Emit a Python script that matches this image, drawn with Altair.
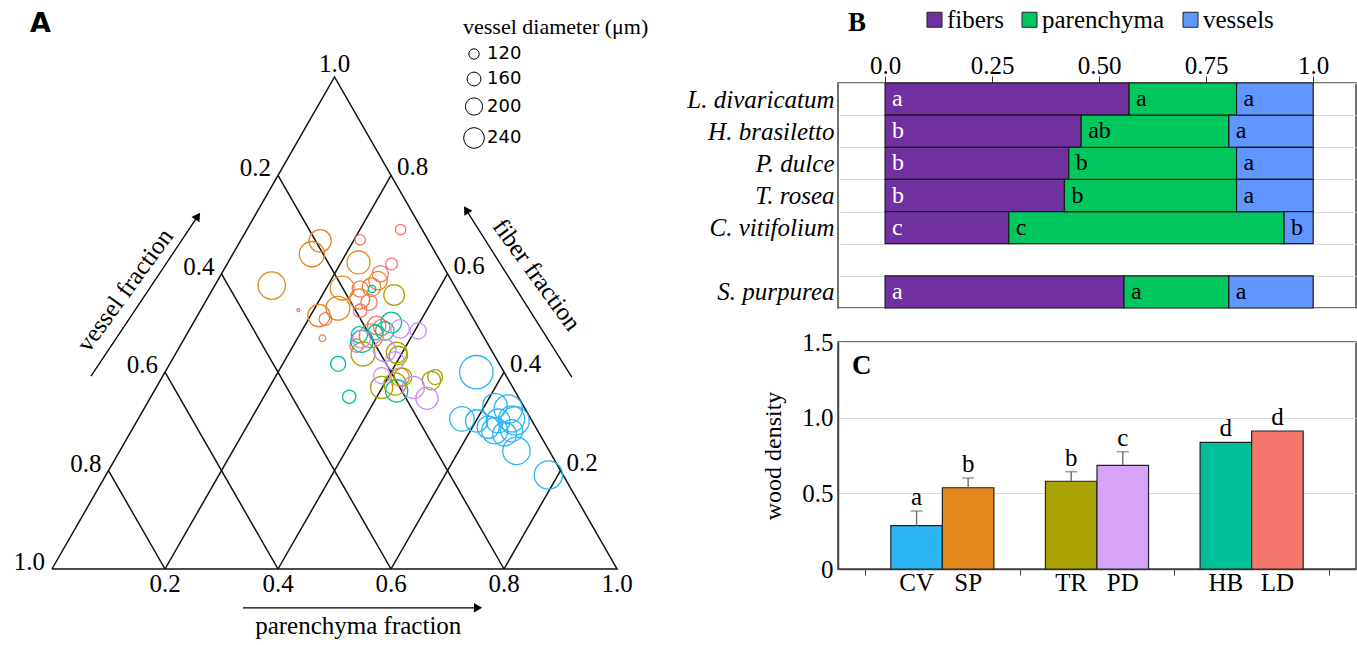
import altair as alt
import pandas as pd

SERIF = "Liberation Serif"
SANS = "DejaVu Sans"

# ---------------- Panel A : ternary data (fiber, parenchyma fractions, vessel diameter) ----------------
sp_fiber = [0.667, 0.640, 0.623, 0.576, 0.586, 0.573, 0.571, 0.549, 0.530, 0.515, 0.474, 0.390]
sp_parench = [0.141, 0.140, 0.231, 0.101, 0.284, 0.279, 0.228, 0.270, 0.241, 0.215, 0.328, 0.421]
sp_diam = [258, 292, 266, 317, 214, 214, 276, 232, 276, 258, 276, 214]
ld_fiber = [0.690, 0.669, 0.620, 0.600, 0.569, 0.542, 0.525, 0.526, 0.508, 0.469, 0.495, 0.491, 0.454]
ld_parench = [0.272, 0.211, 0.291, 0.281, 0.261, 0.290, 0.283, 0.173, 0.230, 0.244, 0.327, 0.338, 0.312]
ld_diam = [121, 121, 137, 188, 188, 188, 155, 34, 147, 77, 214, 188, 155]
hb_fiber = [0.569, 0.417, 0.350, 0.476, 0.484, 0.501, 0.362, 0.463, 0.481]
hb_parench = [0.282, 0.298, 0.351, 0.306, 0.347, 0.350, 0.429, 0.317, 0.332]
hb_diam = [85, 173, 155, 188, 214, 240, 258, 258, 173]
tr_fiber = [0.557, 0.437, 0.440, 0.434, 0.369, 0.376, 0.383, 0.390, 0.390]
tr_parench = [0.327, 0.332, 0.390, 0.396, 0.399, 0.419, 0.480, 0.483, 0.426]
tr_diam = [240, 276, 240, 214, 258, 258, 214, 173, 206]
pdu_fiber = [0.488, 0.484, 0.444, 0.423, 0.393, 0.369, 0.347, 0.467]
pdu_parench = [0.372, 0.406, 0.367, 0.395, 0.387, 0.455, 0.490, 0.314]
pdu_diam = [214, 188, 258, 214, 188, 258, 258, 206]
cv_fiber = [0.400, 0.305, 0.301, 0.332, 0.325, 0.301, 0.305, 0.281, 0.274, 0.281, 0.240, 0.191, 0.288, 0.301]
cv_parench = [0.551, 0.573, 0.601, 0.618, 0.645, 0.639, 0.661, 0.643, 0.664, 0.673, 0.702, 0.783, 0.628, 0.669]
cv_diam = [387, 284, 258, 284, 328, 276, 302, 302, 276, 258, 317, 328, 258, 328]

species_codes = ["CV", "SP", "TR", "PD", "HB", "LD"]
species_colors = ["#2BB5F5", "#E3871C", "#A8A300", "#D6A5FA", "#00BF99", "#F7766D"]
circle_colors = ["#2BB5F5", "#E3871C", "#A8A300", "#C98BF7", "#00BF99", "#F7766D"]

size_legend_values = [120, 160, 200, 240]
grid_fracs = [0.2, 0.4, 0.6, 0.8]
left_labels = [0.2, 0.4, 0.6, 0.8, 1.0]      # vessel fraction on left edge
right_labels = [0.2, 0.4, 0.6, 0.8, 1.0]     # fiber fraction on right edge
bottom_labels = [0.2, 0.4, 0.6, 0.8, 1.0]    # parenchyma fraction on bottom edge

# arrows (tail x, tail y, tip x, tip y) in triangle coordinates
arrow_names = ["vessel", "fiber", "parenchyma"]
arrow_x0 = [0.069, 0.920, 0.338]
arrow_y0 = [0.392, 0.390, -0.079]
arrow_x1 = [0.258, 0.733, 0.754]
arrow_y1 = [0.717, 0.730, -0.079]
arrow_angle = [34, 328, 90]

# ---------------- Panel B data ----------------
b_species = ["L. divaricatum", "H. brasiletto", "P. dulce", "T. rosea", "C. vitifolium", "S. purpurea"]
b_fibers = [0.570, 0.458, 0.429, 0.419, 0.289, 0.558]
b_parench = [0.251, 0.345, 0.392, 0.402, 0.643, 0.245]
b_vessels = [0.179, 0.197, 0.179, 0.179, 0.068, 0.197]
b_let_f = ["a", "b", "b", "b", "c", "a"]
b_let_p = ["a", "ab", "b", "b", "c", "a"]
b_let_v = ["a", "a", "a", "a", "b", "a"]
tissues = ["fibers", "parenchyma", "vessels"]
tissue_colors = ["#7030A0", "#00C85F", "#5F97FF"]

# ---------------- Panel C data ----------------
c_species = ["CV", "SP", "TR", "PD", "HB", "LD"]
c_group = ["g1", "g1", "g2", "g2", "g3", "g3"]
c_pos = ["1", "2", "1", "2", "1", "2"]
c_density = [0.286, 0.537, 0.580, 0.685, 0.837, 0.912]
c_err = [0.097, 0.064, 0.063, 0.090, 0.0, 0.0]
c_letter = ["a", "b", "b", "c", "d", "d"]

# ======================= Panel A =======================
rows = []
for code, fr, pr, dm in [("SP", sp_fiber, sp_parench, sp_diam), ("LD", ld_fiber, ld_parench, ld_diam),
                         ("HB", hb_fiber, hb_parench, hb_diam), ("TR", tr_fiber, tr_parench, tr_diam),
                         ("PD", pdu_fiber, pdu_parench, pdu_diam), ("CV", cv_fiber, cv_parench, cv_diam)]:
    for f, p, d in zip(fr, pr, dm):
        rows.append({"sp": code, "fiber": f, "parench": p, "diam": d})
circ = pd.DataFrame(rows)
circ["vessel"] = 1 - circ["fiber"] - circ["parench"]
circ["x"] = circ["parench"] + circ["fiber"] / 2
circ["y"] = circ["fiber"]

lines = []
for v in grid_fracs:
    f = 1 - v
    lines += [{"id": f"v{v}", "o": 0, "x": f / 2, "y": f}, {"id": f"v{v}", "o": 1, "x": 1 - v, "y": 0}]
for p in grid_fracs:
    lines += [{"id": f"p{p}", "o": 0, "x": p, "y": 0}, {"id": f"p{p}", "o": 1, "x": p + (1 - p) / 2, "y": 1 - p}]
for i, (x, y) in enumerate([(0, 0), (1, 0), (0.5, 1), (0, 0)]):
    lines.append({"id": "edge", "o": i, "x": x, "y": y})
lines = pd.DataFrame(lines)

lab_left = pd.DataFrame({"v": left_labels})
lab_left["x"] = (1 - lab_left["v"]) / 2
lab_left["y"] = 1 - lab_left["v"]
lab_left["t"] = lab_left["v"].map(lambda z: f"{z:.1f}")
lab_right = pd.DataFrame({"f": right_labels[:-1]})
lab_right["x"] = 1 - lab_right["f"] / 2
lab_right["y"] = lab_right["f"]
lab_right["t"] = lab_right["f"].map(lambda z: f"{z:.1f}")
lab_apex = pd.DataFrame({"x": [0.5], "y": [right_labels[-1]], "t": [f"{right_labels[-1]:.1f}"]})
lab_bottom = pd.DataFrame({"x": bottom_labels, "y": [0.0] * len(bottom_labels)})
lab_bottom["t"] = lab_bottom["x"].map(lambda z: f"{z:.1f}")

arr_lines = pd.DataFrame(
    [{"id": n, "o": 0, "x": a, "y": b} for n, a, b in zip(arrow_names, arrow_x0, arrow_y0)]
    + [{"id": n, "o": 1, "x": a, "y": b} for n, a, b in zip(arrow_names, arrow_x1, arrow_y1)])
arr_heads = pd.DataFrame({"x": arrow_x1, "y": arrow_y1, "ang": arrow_angle})

titles = pd.DataFrame({
    "t": ["vessel fraction", "fiber fraction", "parenchyma fraction"],
    "x": [0.129, 0.858, 0.542],
    "y": [0.567, 0.598, -0.132],
    "ang": [306, 54, 0],
})

# plot area of A starts at the same height as panel B's frame (y = 84 px)
A_W, A_H = 660, 561
XS = alt.Scale(domain=[-0.092, 1.076], nice=False, zero=False)
YS = alt.Scale(domain=[-0.15244, 0.98780], nice=False, zero=False)


def ax(f="x"):
    return alt.X(f"{f}:Q", scale=XS, axis=None)


def ay(f="y"):
    return alt.Y(f"{f}:Q", scale=YS, axis=None)


grid_layer = alt.Chart(lines).mark_line(color="#111", strokeWidth=1.5).encode(
    x=ax(), y=ay(), detail="id:N", order="o:Q")

circ_layer = alt.Chart(circ).mark_point(shape="circle", filled=False, strokeWidth=1.3, opacity=1).encode(
    x=ax(), y=ay(),
    color=alt.Color("sp:N", scale=alt.Scale(domain=species_codes, range=circle_colors), legend=None),
    size=alt.Size("diam:Q", scale=alt.Scale(type="pow", exponent=2, domain=[0, 240], range=[0, 430]),
                  legend=alt.Legend(title="vessel diameter (μm)", orient="none", legendX=463, legendY=-66,
                                    values=size_legend_values, titleFont=SERIF, titleFontSize=22,
                                    titleFontWeight="normal", titleColor="black", titleLimit=400,
                                    labelFont=SANS, labelFontSize=18, labelColor="black",
                                    symbolStrokeColor="black", symbolStrokeWidth=1, symbolType="circle",
                                    rowPadding=7, labelOffset=2, titlePadding=6, padding=0)),
)

lab_kw = dict(font=SERIF, fontSize=25, color="black")
left_layer = alt.Chart(lab_left).mark_text(align="right", baseline="alphabetic", dx=-7, dy=1, **lab_kw).encode(
    x=ax(), y=ay(), text="t:N")
right_layer = alt.Chart(lab_right).mark_text(align="left", baseline="alphabetic", dx=6, dy=0, **lab_kw).encode(
    x=ax(), y=ay(), text="t:N")
apex_layer = alt.Chart(lab_apex).mark_text(align="center", baseline="alphabetic", dy=-5, **lab_kw).encode(
    x=ax(), y=ay(), text="t:N")
bottom_layer = alt.Chart(lab_bottom).mark_text(align="center", baseline="alphabetic", dy=23, **lab_kw).encode(
    x=ax(), y=ay(), text="t:N")

arrow_layer = alt.Chart(arr_lines).mark_line(color="black", strokeWidth=1.3).encode(
    x=ax(), y=ay(), detail="id:N", order="o:Q")
head_layer = alt.Chart(arr_heads).mark_point(shape="triangle-up", filled=True, color="black", size=90,
                                              opacity=1).encode(
    x=ax(), y=ay(), angle=alt.Angle("ang:Q", scale=None))

title_layers = []
for i in range(len(titles)):
    sub = titles.iloc[[i]]
    bl = "alphabetic" if sub["ang"].iloc[0] == 0 else "middle"
    title_layers.append(alt.Chart(sub).mark_text(align="center", baseline=bl, angle=int(sub["ang"].iloc[0]),
                                                 font=SERIF, fontSize=25, color="black").encode(
        x=ax(), y=ay(), text="t:N"))

a_letter = alt.Chart(pd.DataFrame({"t": ["A"]})).mark_text(
    font=SANS, fontSize=27, fontWeight="bold", align="left", baseline="alphabetic", color="black").encode(
    x=alt.value(30), y=alt.value(-51), text="t:N")

chartA = alt.layer(grid_layer, circ_layer, left_layer, right_layer, apex_layer, bottom_layer,
                   arrow_layer, head_layer, *title_layers, a_letter).properties(
    width=A_W, height=A_H, view=alt.ViewBackground(stroke=None))

# ======================= Panel B =======================
brow = []
for i, s in enumerate(b_species):
    start = 0.0
    for t, val, let in zip(tissues, [b_fibers[i], b_parench[i], b_vessels[i]],
                           [b_let_f[i], b_let_p[i], b_let_v[i]]):
        brow.append({"species": s, "tissue": t, "start": start, "end": start + val, "letter": let})
        start += val
dfB = pd.DataFrame(brow)
b_domain = b_species[:5] + [" "] + b_species[5:]

BY = alt.Y("species:N", scale=alt.Scale(domain=b_domain, paddingInner=0, paddingOuter=0),
           axis=alt.Axis(title=None, labelFont=SERIF, labelFontStyle="italic", labelFontSize=25,
                         labelColor="black", ticks=False, domain=False, grid=True, gridColor="#dcdcdc",
                         gridWidth=1.2, tickBand="extent", labelPadding=4))
BX = alt.X("start:Q", scale=alt.Scale(domain=[-0.11, 1.1], nice=False, zero=False),
           axis=alt.Axis(orient="top", values=[0, 0.25, 0.5, 0.75, 1.0], title=None, grid=False, domain=False,
                         tickSize=7, tickColor="#333", labelFont=SERIF, labelFontSize=25, labelColor="black",
                         labelPadding=3, labelBaseline="alphabetic",
                         labelExpr="datum.value == 0 ? '0.0' : datum.value == 1 ? '1.0' : format(datum.value, '.2f')"))

b_bars = alt.Chart(dfB).mark_bar(stroke="#1a1a1a", strokeWidth=1.2).encode(
    y=BY, x=BX, x2="end:Q",
    color=alt.Color("tissue:N", scale=alt.Scale(domain=tissues, range=tissue_colors),
                    legend=alt.Legend(title=None, orient="none", legendX=84, legendY=-76, direction="horizontal",
                                      symbolType="square", symbolSize=225, symbolStrokeColor="#222",
                                      symbolStrokeWidth=1, labelFont=SERIF, labelFontSize=25, labelColor="black",
                                      columnPadding=13, labelOffset=0, padding=0)),
    order=alt.Order("start:Q"),
)
b_text = alt.Chart(dfB).mark_text(font=SERIF, fontSize=24, align="left", baseline="middle", dx=7).encode(
    y=BY, x=BX, text="letter:N",
    color=alt.condition(alt.datum.tissue == "fibers", alt.value("white"), alt.value("black")))
b_letter = alt.Chart(pd.DataFrame({"t": ["B"]})).mark_text(
    font=SERIF, fontSize=27, fontWeight="bold", align="left", baseline="alphabetic", color="black").encode(
    x=alt.value(10), y=alt.value(-52), text="t:N")

chartB = alt.layer(b_bars, b_text, b_letter).properties(
    width=518, height=225, view=alt.ViewBackground(stroke="#444", strokeWidth=1.5))

# ======================= Panel C =======================
dfC = pd.DataFrame({"species": c_species, "group": c_group, "pos": c_pos, "density": c_density,
                    "err": c_err, "letter": c_letter})
dfC["upper"] = dfC["density"] + dfC["err"]

CX = alt.X("group:N", scale=alt.Scale(domain=["g1", "g2", "g3"], paddingInner=0, paddingOuter=0.175),
           axis=alt.Axis(title=None, labels=False, tickBand="extent", tickSize=6, tickColor="#444",
                         domainColor="#444", domainWidth=1.5, grid=False))
CXO = alt.XOffset("pos:N", scale=alt.Scale(domain=["1", "2"], paddingInner=0, paddingOuter=0.5))
CYS = alt.Scale(domain=[0, 1.5], nice=False)
CYA = alt.Axis(values=[0, 0.5, 1.0, 1.5], title="wood density", grid=True, gridColor="#dcdcdc", gridWidth=1.2,
               ticks=False, domainColor="#444", domainWidth=1.5, labelFont=SERIF, labelFontSize=25,
               labelColor="black", labelPadding=5, titleFont=SERIF, titleFontSize=24, titleFontWeight="normal",
               titleColor="black", titlePadding=16,
               labelExpr="datum.value == 0 ? '0' : format(datum.value, '.1f')")


def cy(f):
    return alt.Y(f"{f}:Q", scale=CYS, axis=CYA)


baseC = alt.Chart(dfC).encode(x=CX, xOffset=CXO)
c_bars = baseC.mark_bar(stroke="#222", strokeWidth=1.2).encode(
    y=cy("density"),
    color=alt.Color("species:N", scale=alt.Scale(domain=c_species, range=species_colors), legend=None))
c_err_rule = baseC.transform_filter("datum.err > 0").mark_rule(color="#6b6b6b", strokeWidth=1.4).encode(
    y=cy("density"), y2="upper:Q")
c_caps = baseC.transform_filter("datum.err > 0").mark_tick(color="#6b6b6b", thickness=1.4, size=12).encode(
    y=cy("upper"))
c_letters = baseC.mark_text(font=SERIF, fontSize=25, baseline="alphabetic", dy=-6, color="black").encode(
    y=cy("upper"), text="letter:N")
c_labels = baseC.mark_text(font=SERIF, fontSize=25, baseline="top", dy=2, color="black").encode(
    y=alt.datum(0, scale=CYS, axis=CYA), text="species:N")
c_letter = alt.Chart(pd.DataFrame({"t": ["C"]})).mark_text(
    font=SERIF, fontSize=27, fontWeight="bold", align="left", baseline="alphabetic", color="black").encode(
    x=alt.value(14), y=alt.value(32), text="t:N")

chartC = alt.layer(c_bars, c_err_rule, c_caps, c_letters, c_labels, c_letter).properties(
    width=518, height=227, view=alt.ViewBackground(stroke="#444", strokeWidth=1.5))

right = alt.vconcat(chartB, chartC, spacing=19).resolve_scale(color="independent")
chart = alt.hconcat(chartA, right, spacing=26).resolve_scale(color="independent", size="independent").properties(
    padding={"left": 0, "top": 6, "right": 0, "bottom": 0})

chart.save("out.html", embed_options={"renderer": "svg", "actions": False})
